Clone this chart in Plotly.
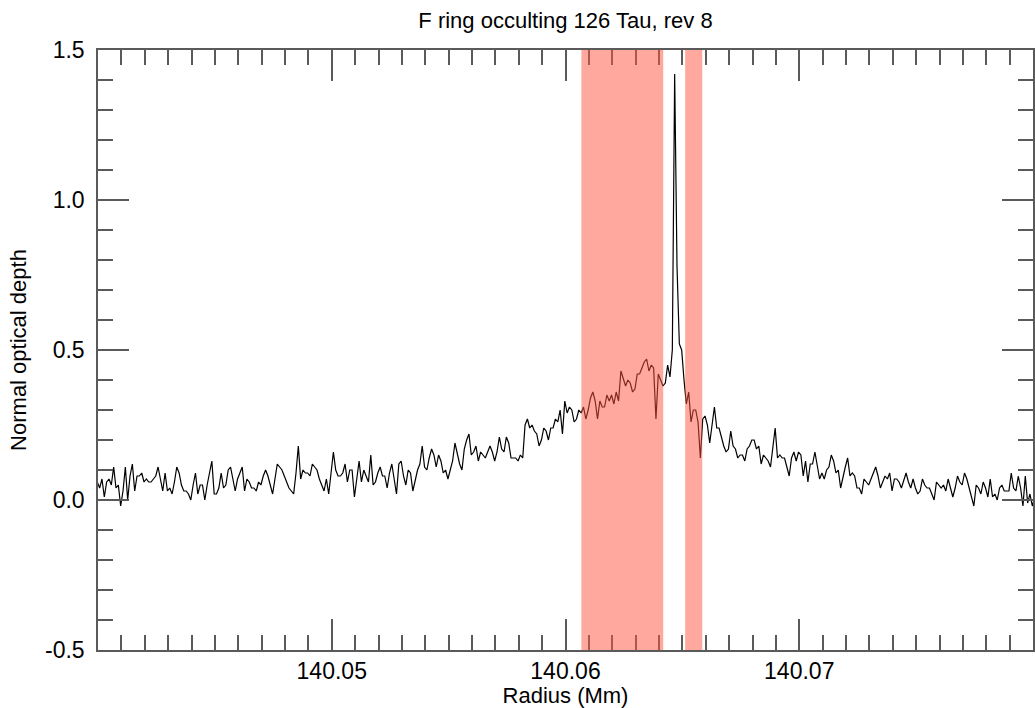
import plotly.graph_objects as go

# ---- data ----
radius_start = 140.03997   # Mm, first sample
radius_step = 0.0001       # Mm, sample spacing

tau_inner = [0.06,
    0.04, 0.07, 0.01, 0.06, 0.07, 0.05, 0.11, 0.04, 0.05, -0.02,
    0.03, 0.11, 0.00, 0.08, 0.12, 0.03, 0.08, 0.08, 0.09, 0.06,
    0.07, 0.06, 0.06, 0.07, 0.08, 0.11, 0.07, 0.03, 0.09, 0.03,
    0.04, 0.02, 0.06, 0.11, 0.09, 0.05, 0.03, 0.03, 0.02, 0.00,
    0.05, 0.09, 0.02, 0.05, 0.05, 0.00, 0.05, 0.09, 0.13, 0.02,
    0.02, 0.04, 0.09, 0.04, 0.05, 0.10, 0.11, 0.07, 0.03, 0.07,
    0.09, 0.11, 0.03, 0.07, 0.06, 0.04, 0.04, 0.03, 0.06, 0.05,
    0.08, 0.10, 0.08, 0.05, 0.02, 0.07, 0.12, 0.11, 0.10, 0.08,
    0.06, 0.04, 0.03, 0.02, 0.09, 0.18, 0.07, 0.10, 0.09, 0.09,
    0.08, 0.12, 0.11, 0.10, 0.07, 0.05, 0.03, 0.07, 0.02, 0.09,
    0.16, 0.10,
]
tau_rise = [
    0.08, 0.08, 0.09, 0.12, 0.06, 0.10, 0.10, 0.01, 0.07, 0.13,
    0.06, 0.10, 0.08, 0.06, 0.15, 0.05, 0.06, 0.09, 0.11, 0.08,
    0.08, 0.04, 0.09, 0.12, 0.07, 0.02, 0.12, 0.13, 0.08, 0.05,
    0.10, 0.09, 0.03, 0.07, 0.10, 0.12, 0.18, 0.11, 0.10, 0.14,
    0.17, 0.15, 0.11, 0.15, 0.13, 0.09, 0.10, 0.07, 0.10, 0.13,
    0.19, 0.15, 0.12, 0.10, 0.17, 0.20, 0.22, 0.15, 0.16, 0.18,
    0.13, 0.16, 0.15, 0.14, 0.16, 0.18, 0.16, 0.13, 0.16, 0.21,
    0.17, 0.16, 0.21, 0.19, 0.14, 0.14, 0.14, 0.13, 0.15, 0.14,
    0.25, 0.27, 0.24, 0.25, 0.23, 0.22, 0.18, 0.20, 0.24, 0.23,
    0.20, 0.24, 0.24, 0.27, 0.26, 0.30, 0.22, 0.33,
]
tau_core = [
    0.29, 0.31, 0.30, 0.26, 0.27, 0.30, 0.29, 0.31, 0.27, 0.30,
    0.34, 0.36, 0.33, 0.27, 0.33, 0.31, 0.31, 0.35, 0.33, 0.35,
    0.32, 0.36, 0.33, 0.43, 0.40, 0.38, 0.40, 0.39, 0.36, 0.37,
    0.42, 0.42, 0.44, 0.46, 0.47, 0.43, 0.45, 0.44, 0.27, 0.42,
    0.40, 0.38, 0.39, 0.45, 0.41, 0.50, 1.42, 0.78, 0.52, 0.50,
    0.40, 0.32, 0.36, 0.26, 0.30, 0.30, 0.26, 0.14, 0.27, 0.28,
    0.25, 0.19, 0.25, 0.31, 0.24, 0.24, 0.21, 0.18, 0.16, 0.17,
    0.23, 0.18, 0.17, 0.14, 0.15, 0.15, 0.13, 0.17, 0.18, 0.20,
    0.20, 0.17, 0.18, 0.12, 0.15, 0.14, 0.13, 0.11, 0.18, 0.24,
    0.14, 0.15, 0.14, 0.14, 0.11, 0.08, 0.14, 0.16, 0.13, 0.16,
]
tau_outer = [
    0.15, 0.08, 0.13, 0.06, 0.12, 0.12, 0.16, 0.11, 0.07, 0.09,
    0.07, 0.10, 0.11, 0.15, 0.13, 0.09, 0.10, 0.04, 0.08, 0.11,
    0.14, 0.08, 0.09, 0.08, 0.04, 0.04, 0.02, 0.07, 0.06, 0.05,
    0.07, 0.09, 0.11, 0.08, 0.04, 0.06, 0.08, 0.07, 0.09, 0.03,
    0.07, 0.07, 0.06, 0.04, 0.07, 0.09, 0.06, 0.04, 0.07, 0.04,
    0.02, 0.03, 0.07, 0.05, 0.04, 0.04, 0.02, 0.00, 0.06, 0.05,
    0.04, 0.05, 0.03, 0.07, 0.04, 0.01, 0.04, 0.08, 0.06, 0.05,
    0.09, 0.07, 0.04, 0.01, -0.02, 0.05, 0.04, 0.02, 0.06, 0.04,
    0.01, 0.07, 0.01, 0.02, 0.00, 0.04, 0.05, 0.03, 0.03, 0.03,
    0.09, 0.04, 0.03, 0.08, 0.04, -0.02, 0.08, -0.01, 0.02, -0.02,
    0.01,
]

# shaded (red) radius intervals, Mm
band_starts = [140.06068, 140.06512]
band_ends = [140.06418, 140.06585]

x_tick_vals = [140.05, 140.06, 140.07]
x_tick_text = ["140.05", "140.06", "140.07"]
y_tick_vals = [-0.5, 0.0, 0.5, 1.0, 1.5]
y_tick_text = ["-0.5", "0.0", "0.5", "1.0", "1.5"]

# ---- build ----
tau = tau_inner + tau_rise + tau_core + tau_outer
radius = [radius_start + k * radius_step for k in range(len(tau))]

FONT = "Liberation Sans, Arial, Helvetica, sans-serif"
AXC = "#5a5a5a"
FS = 23

fig = go.Figure()
fig.add_trace(go.Scatter(x=radius, y=tau, mode="lines",
                         line=dict(color="black", width=1.2),
                         hoverinfo="skip", showlegend=False))

for a, b in zip(band_starts, band_ends):
    fig.add_shape(type="rect", xref="x", yref="paper", x0=a, x1=b, y0=0, y1=1,
                  fillcolor="rgb(255,81,61)", opacity=0.5, line=dict(width=0),
                  layer="above")

fig.update_layout(
    width=1035, height=708,
    margin=dict(l=98, r=0, t=50, b=58),
    paper_bgcolor="white", plot_bgcolor="white",
    font=dict(family=FONT, size=FS, color="black"),
    title=dict(text="F ring occulting 126 Tau, rev 8", x=0.5, xref="paper",
               xanchor="center", y=1 - 20 / 708, yref="container",
               yanchor="middle", font=dict(family=FONT, size=FS - 1, color="black")),
    showlegend=False,
)

fig.update_xaxes(
    range=[140.04, 140.08], showgrid=False, zeroline=False,
    showline=True, linecolor=AXC, linewidth=1.5, mirror="allticks",
    ticks="inside", ticklen=31, tickwidth=1.5, tickcolor=AXC,
    tickmode="array", tickvals=x_tick_vals, ticktext=x_tick_text,
    tickfont=dict(family=FONT, size=FS, color="black"),
    ticklabelstandoff=0,
    minor=dict(tick0=140.04, dtick=0.001, ticks="inside", ticklen=15,
               tickwidth=1.5, tickcolor=AXC, showgrid=False),
    title=dict(text="Radius (Mm)", standoff=0,
               font=dict(family=FONT, size=FS - 1, color="black")),
)
fig.update_yaxes(
    range=[-0.5, 1.5], showgrid=False, zeroline=False,
    showline=True, linecolor=AXC, linewidth=1.5, mirror="allticks",
    ticks="inside", ticklen=31, tickwidth=1.5, tickcolor=AXC,
    tickmode="array", tickvals=y_tick_vals, ticktext=y_tick_text,
    tickfont=dict(family=FONT, size=FS, color="black"),
    ticklabelstandoff=7,
    minor=dict(tick0=-0.5, dtick=0.1, ticks="inside", ticklen=15,
               tickwidth=1.5, tickcolor=AXC, showgrid=False),
    title=dict(text="Normal optical depth", standoff=12,
               font=dict(family=FONT, size=FS - 1, color="black")),
)

fig.write_html("out.html")
